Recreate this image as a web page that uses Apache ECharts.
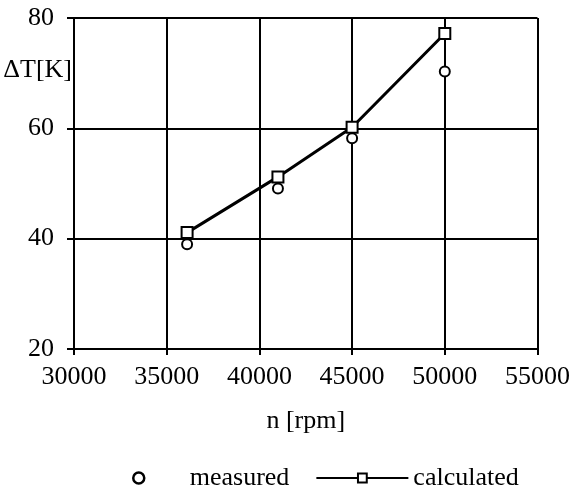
<!DOCTYPE html>
<html>
<head>
<meta charset="utf-8">
<script src="https://cdn.jsdelivr.net/npm/echarts@6/dist/echarts.min.js"></script>
<style>html,body{margin:0;padding:0;background:#fff;}#c{width:573px;height:493px;}</style>
</head>
<body>
<div id="c"></div>
<script>
const rpm = [36100, 41000, 45000, 50000];
const measured = [39.0, 49.1, 58.2, 70.3];
const calculated = [41.1, 51.2, 60.2, 77.2];
const xTicks = [30000, 35000, 40000, 45000, 50000, 55000];
const yTicks = [20, 40, 60, 80];

const font = 'Liberation Serif';
const chart = echarts.init(document.getElementById('c'), null, {renderer: 'canvas'});
chart.setOption({
  backgroundColor: '#fff',
  animation: false,
  textStyle: {fontFamily: font, color: '#000'},
  grid: {left: 74, right: 35, top: 18, bottom: 144},
  xAxis: {
    type: 'value', min: xTicks[0], max: xTicks[xTicks.length - 1], interval: 5000,
    name: 'n [rpm]', nameLocation: 'middle', nameGap: 59,
    nameTextStyle: {fontFamily: font, fontSize: 26, color: '#000'},
    axisLine: {show: true, lineStyle: {color: '#000', width: 2}},
    axisTick: {show: true, length: 6, lineStyle: {color: '#000', width: 2}},
    axisLabel: {fontFamily: font, fontSize: 26, color: '#000', margin: 15, formatter: v => String(v)},
    splitLine: {show: true, lineStyle: {color: '#000', width: 2}}
  },
  yAxis: {
    type: 'value', min: yTicks[0], max: yTicks[yTicks.length - 1], interval: 20,
    name: 'ΔT[K]', nameLocation: 'end', nameGap: -52,
    nameTextStyle: {fontFamily: font, fontSize: 26, color: '#000', align: 'right', verticalAlign: 'middle', padding: [0, 2, 0, 0]},
    axisLine: {show: true, lineStyle: {color: '#000', width: 2}},
    axisTick: {show: true, length: 7, lineStyle: {color: '#000', width: 2}},
    axisLabel: {fontFamily: font, fontSize: 26, color: '#000', margin: 20, formatter: v => String(v)},
    splitLine: {show: true, lineStyle: {color: '#000', width: 2}}
  },
  legend: {
    left: 127, top: 460, itemWidth: 92, itemHeight: 11, itemGap: 26,
    textStyle: {fontFamily: font, fontSize: 26, color: '#000'},
    data: [
      {name: 'measured', icon: 'circle', itemStyle: {color: '#fff', borderColor: '#000', borderWidth: 2.5}},
      {name: 'calculated', lineStyle: {width: 2, color: '#000'}}
    ]
  },
  series: [
    {
      name: 'calculated', type: 'line',
      data: rpm.map((x, i) => [x, calculated[i]]),
      symbol: 'rect', symbolSize: 11, showSymbol: true,
      lineStyle: {color: '#000', width: 3},
      itemStyle: {color: '#fff', borderColor: '#000', borderWidth: 2},
      z: 3
    },
    {
      name: 'measured', type: 'scatter',
      data: rpm.map((x, i) => [x, measured[i]]),
      symbol: 'circle', symbolSize: 10,
      itemStyle: {color: '#fff', borderColor: '#000', borderWidth: 2, opacity: 1},
      z: 2
    }
  ]
});
</script>
</body>
</html>
